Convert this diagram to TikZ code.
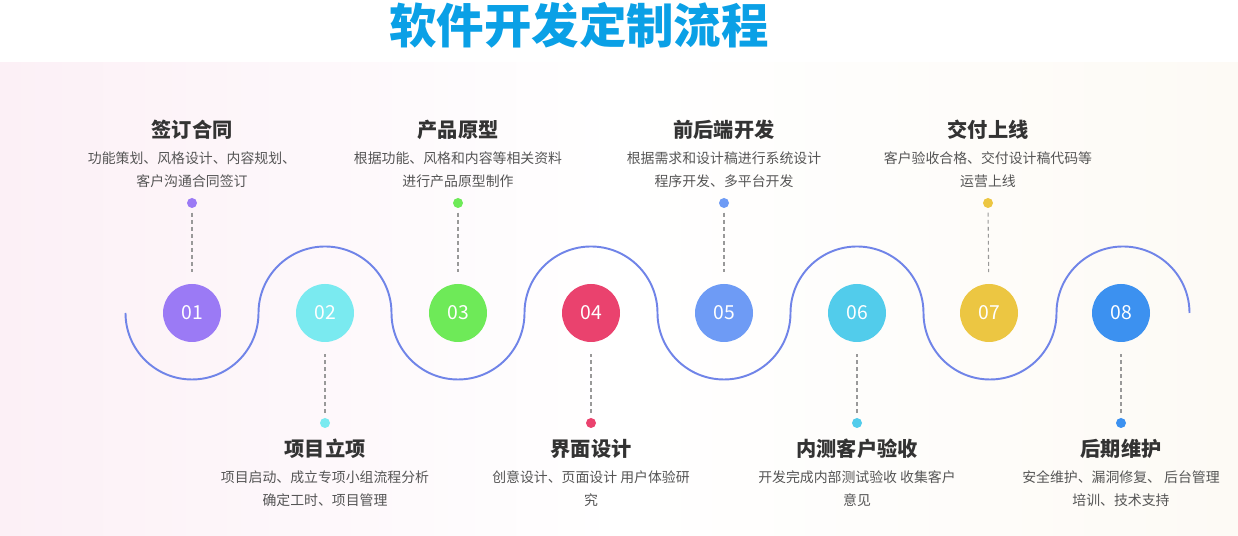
\documentclass[tikz,border=0pt]{standalone}
\usepackage{fontspec}
\newfontfamily\cjk{Noto Sans CJK SC}
\usetikzlibrary{positioning, calc}

\definecolor{titleblue}{RGB}{10,160,230}
\definecolor{wavecol}{RGB}{112,132,232}
\definecolor{headcol}{RGB}{51,51,51}
\definecolor{desccol}{RGB}{85,85,85}
\definecolor{bgpink}{RGB}{252,240,246}
\definecolor{bgcream}{RGB}{253,250,245}
\definecolor{cone}{RGB}{155,122,245}
\definecolor{ctwo}{RGB}{122,234,240}
\definecolor{cthree}{RGB}{110,234,88}
\definecolor{cfour}{RGB}{234,66,110}
\definecolor{cfive}{RGB}{110,155,245}
\definecolor{csix}{RGB}{82,204,235}
\definecolor{cseven}{RGB}{236,198,66}
\definecolor{ceight}{RGB}{60,145,240}

\begin{document}
\begin{tikzpicture}[x=0.02cm, y=0.02cm,
    stepnum/.style={circle, minimum size=1.16cm, inner sep=0pt, text=white,
        font=\cjk\fontsize{11}{11}\selectfont},
    stepdot/.style={circle, minimum size=0.2cm, inner sep=0pt},
    stephead/.style={text=headcol, font=\cjk\bfseries\fontsize{11.5}{12}\selectfont},
    stepdesc/.style={text=desccol, align=center, font=\cjk\fontsize{7.9}{13}\selectfont},
    dashline/.style={gray!80, dash pattern=on 2.2pt off 1.8pt, line width=0.6pt,
        shorten <=2.5pt, shorten >=6.5pt}]
\useasboundingbox (0,0) rectangle (1238,536);

% Background
\fill[white] (0,0) rectangle (1238,536);
\shade[left color=bgpink, right color=bgcream, middle color=white] (0,0) rectangle (1238,473);

% Title
\node[text=titleblue, font=\cjk\bfseries\fontsize{27}{30}\selectfont] (title) at (579,511) {软件开发定制流程};

% Wave line
\draw[wavecol, line width=1.1pt] (125.5,223)
    arc[start angle=180, end angle=360, radius=66.5]
    arc[start angle=180, end angle=0, radius=66.5]
    arc[start angle=180, end angle=360, radius=66.5]
    arc[start angle=180, end angle=0, radius=66.5]
    arc[start angle=180, end angle=360, radius=66.5]
    arc[start angle=180, end angle=0, radius=66.5]
    arc[start angle=180, end angle=360, radius=66.5]
    arc[start angle=180, end angle=0, radius=66.5];

% Step circles
\node[stepnum, fill=cone] (c1) at (192,223) {01};
\node[stepnum, fill=ctwo] (c2) at (325,223) {02};
\node[stepnum, fill=cthree] (c3) at (458,223) {03};
\node[stepnum, fill=cfour] (c4) at (591,223) {04};
\node[stepnum, fill=cfive] (c5) at (724,223) {05};
\node[stepnum, fill=csix] (c6) at (857,223) {06};
\node[stepnum, fill=cseven] (c7) at (989,223) {07};
\node[stepnum, fill=ceight] (c8) at (1121,223) {08};

% Top steps
\node[stepdot, fill=cone] (d1) at (192,333) {};
\node[stephead] (h1) at (192,406) {签订合同};
\node[stepdesc] (p1) at (192,366) {功能策划、风格设计、内容规划、\\客户沟通合同签订};
\node[stepdot, fill=cthree] (d3) at (458,333) {};
\node[stephead] (h3) at (458,406) {产品原型};
\node[stepdesc] (p3) at (458,366) {根据功能、风格和内容等相关资料\\进行产品原型制作};
\node[stepdot, fill=cfive] (d5) at (724,333) {};
\node[stephead] (h5) at (724,406) {前后端开发};
\node[stepdesc] (p5) at (724,366) {根据需求和设计稿进行系统设计\\程序开发、多平台开发};
\node[stepdot, fill=cseven] (d7) at (988,333) {};
\node[stephead] (h7) at (988,406) {交付上线};
\node[stepdesc] (p7) at (988,366) {客户验收合格、交付设计稿代码等\\运营上线};

% Bottom steps
\node[stepdot, fill=ctwo] (d2) at (325,113) {};
\node[stephead] (h2) at (325,87) {项目立项};
\node[stepdesc] (p2) at (325,47) {项目启动、成立专项小组流程分析\\确定工时、项目管理};
\node[stepdot, fill=cfour] (d4) at (591,113) {};
\node[stephead] (h4) at (591,87) {界面设计};
\node[stepdesc] (p4) at (591,47) {创意设计、页面设计 用户体验研\\究};
\node[stepdot, fill=csix] (d6) at (857,113) {};
\node[stephead] (h6) at (857,87) {内测客户验收};
\node[stepdesc] (p6) at (857,47) {开发完成内部测试验收 收集客户\\意见};
\node[stepdot, fill=ceight] (d8) at (1121,113) {};
\node[stephead] (h8) at (1121,87) {后期维护};
\node[stepdesc] (p8) at (1121,47) {安全维护、漏洞修复、 后台管理\\培训、技术支持};

% Dashed leaders
\draw[dashline] (d1) -- (c1);
\draw[dashline] (d3) -- (c3);
\draw[dashline] (d5) -- (c5);
\draw[dashline] (d7) -- (c7);
\draw[dashline] (d2) -- (c2);
\draw[dashline] (d4) -- (c4);
\draw[dashline] (d6) -- (c6);
\draw[dashline] (d8) -- (c8);
\end{tikzpicture}
\end{document}
